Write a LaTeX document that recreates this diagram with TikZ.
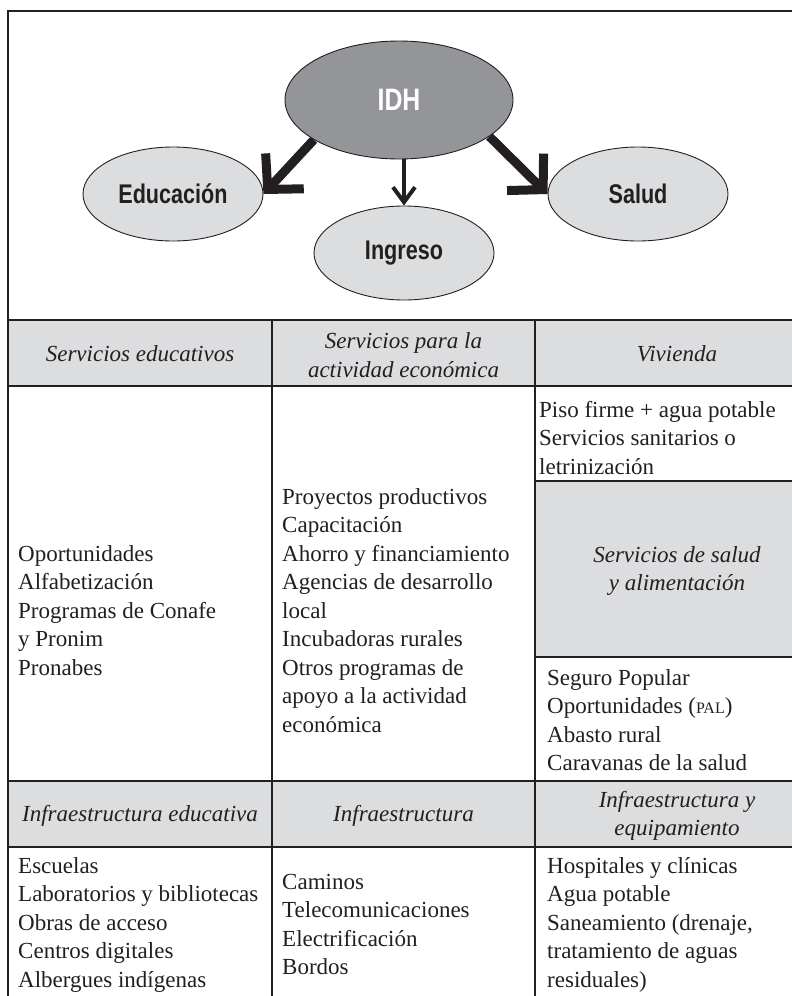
\documentclass[tikz,border=0pt]{standalone}
\usepackage{fontspec}
\setmainfont{Liberation Serif}
\newfontfamily\condsans[FakeStretch=0.8]{Liberation Sans}
\usetikzlibrary{arrows.meta,shapes.geometric}
\pgfdeclarelayer{bg}
\pgfsetlayers{bg,main}
\definecolor{hdr}{RGB}{220,221,223}
\definecolor{idhgray}{RGB}{147,149,152}
\definecolor{ink}{RGB}{35,31,32}
\begin{document}
\begin{tikzpicture}[x=1pt,y=-1pt,
  oval/.style={ellipse, draw=ink, line width=0.9pt, fill=hdr, minimum width=180pt,
    minimum height=94pt, inner sep=0pt, font=\condsans\bfseries\fontsize{27}{30}\selectfont, text=ink},
  rule/.style={draw=ink, line width=2pt},
  item/.style={font=\fontsize{23}{28}\selectfont, inner sep=0pt, anchor=base west, text=ink},
  head/.style={font=\fontsize{23}{28}\selectfont\itshape, inner sep=0pt, anchor=base, text=ink},
  thickarrow/.style={draw=ink, line width=9pt, -{Straight Barb[length=25pt,width=52pt]}},
  thinarrow/.style={draw=ink, line width=4pt, -{Straight Barb[length=15pt,width=22pt]}}
]
\useasboundingbox (0,0) rectangle (792,996);

% ---------- table background and rules ----------
\begin{scope}
\clip (0,0) rectangle (792,996);
\fill[hdr] (8,320) rectangle (830,386);
\fill[hdr] (8,781) rectangle (830,847);
\fill[hdr] (535,481) rectangle (830,657);
\draw[rule] (8,1010) -- (8,11) -- (830,11) -- (830,1010);
\draw[rule] (8,320) -- (830,320);
\draw[rule] (8,386) -- (830,386);
\draw[rule] (8,781) -- (830,781);
\draw[rule] (8,847) -- (830,847);
\draw[rule] (535,481) -- (830,481);
\draw[rule] (535,657) -- (830,657);
\draw[rule] (272,320) -- (272,1010);
\draw[rule] (535,320) -- (535,1010);
\end{scope}

% ---------- diagram ----------
\node[ellipse, draw=ink, line width=0.9pt, fill=idhgray, minimum width=228pt, minimum height=118pt,
  inner sep=0pt, text=white, font=\condsans\bfseries\fontsize{31}{34}\selectfont] (idh) at (399,100) {IDH};
\node[oval] (edu) at (173,194) {Educación};
\node[oval] (ing) at (404,253) {Ingreso};
\node[oval] (sal) at (638,194) {Salud};

\begin{pgfonlayer}{bg}
\fill[white] (0,0) rectangle (792,996);
\draw[thickarrow] (idh.205) -- (edu.east);
\draw[thickarrow] (idh.-22) -- (sal.west);
\draw[thinarrow] (ing.north |- idh.south) -- (ing.north);
\end{pgfonlayer}

% ---------- headers ----------
\node[head] (h1) at (140,361) {Servicios educativos};
\node[head] (h2a) at (403.5,348.5) {Servicios para la};
\node[head] (h2b) at (403.5,377) {actividad económica};
\node[head] (h3) at (677,361) {Vivienda};
\node[head] (h4a) at (677,562) {Servicios de salud};
\node[head] (h4b) at (677,590) {y alimentación};
\node[head] (h5) at (140,821) {Infraestructura educativa};
\node[head] (h6) at (403.5,821) {Infraestructura};
\node[head] (h7a) at (677,807) {Infraestructura y};
\node[head] (h7b) at (677,835) {equipamiento};

% ---------- cell items ----------
\foreach \t [count=\i] in {Oportunidades, Alfabetización, Programas de Conafe, y Pronim, Pronabes}
  \node[item] (a\i) at (18,{561+28.5*(\i-1)}) {\t};
\foreach \t [count=\i] in {Proyectos productivos, Capacitación, Ahorro y financiamiento,
    Agencias de desarrollo, local, Incubadoras rurales, Otros programas de,
    apoyo a la actividad, económica}
  \node[item] (b\i) at (282,{504+28.5*(\i-1)}) {\t};
\foreach \t [count=\i] in {Piso firme + agua potable, Servicios sanitarios o, letrinización}
  \node[item] (c\i) at (539,{417+28.5*(\i-1)}) {\t};
\foreach \t [count=\i] in {Seguro Popular, {Oportunidades ({\fontsize{16}{16}\selectfont PAL})},
    Abasto rural, Caravanas de la salud}
  \node[item] (d\i) at (547,{685+28.5*(\i-1)}) {\t};
\foreach \t [count=\i] in {Escuelas, Laboratorios y bibliotecas, Obras de acceso,
    Centros digitales, Albergues indígenas}
  \node[item] (e\i) at (18,{873+28.5*(\i-1)}) {\t};
\foreach \t [count=\i] in {Caminos, Telecomunicaciones, Electrificación, Bordos}
  \node[item] (f\i) at (282,{889+28.5*(\i-1)}) {\t};
\foreach \t [count=\i] in {Hospitales y clínicas, Agua potable, {Saneamiento (drenaje,},
    tratamiento de aguas, residuales)}
  \node[item] (g\i) at (547,{873+28.5*(\i-1)}) {\t};
\end{tikzpicture}
\end{document}
